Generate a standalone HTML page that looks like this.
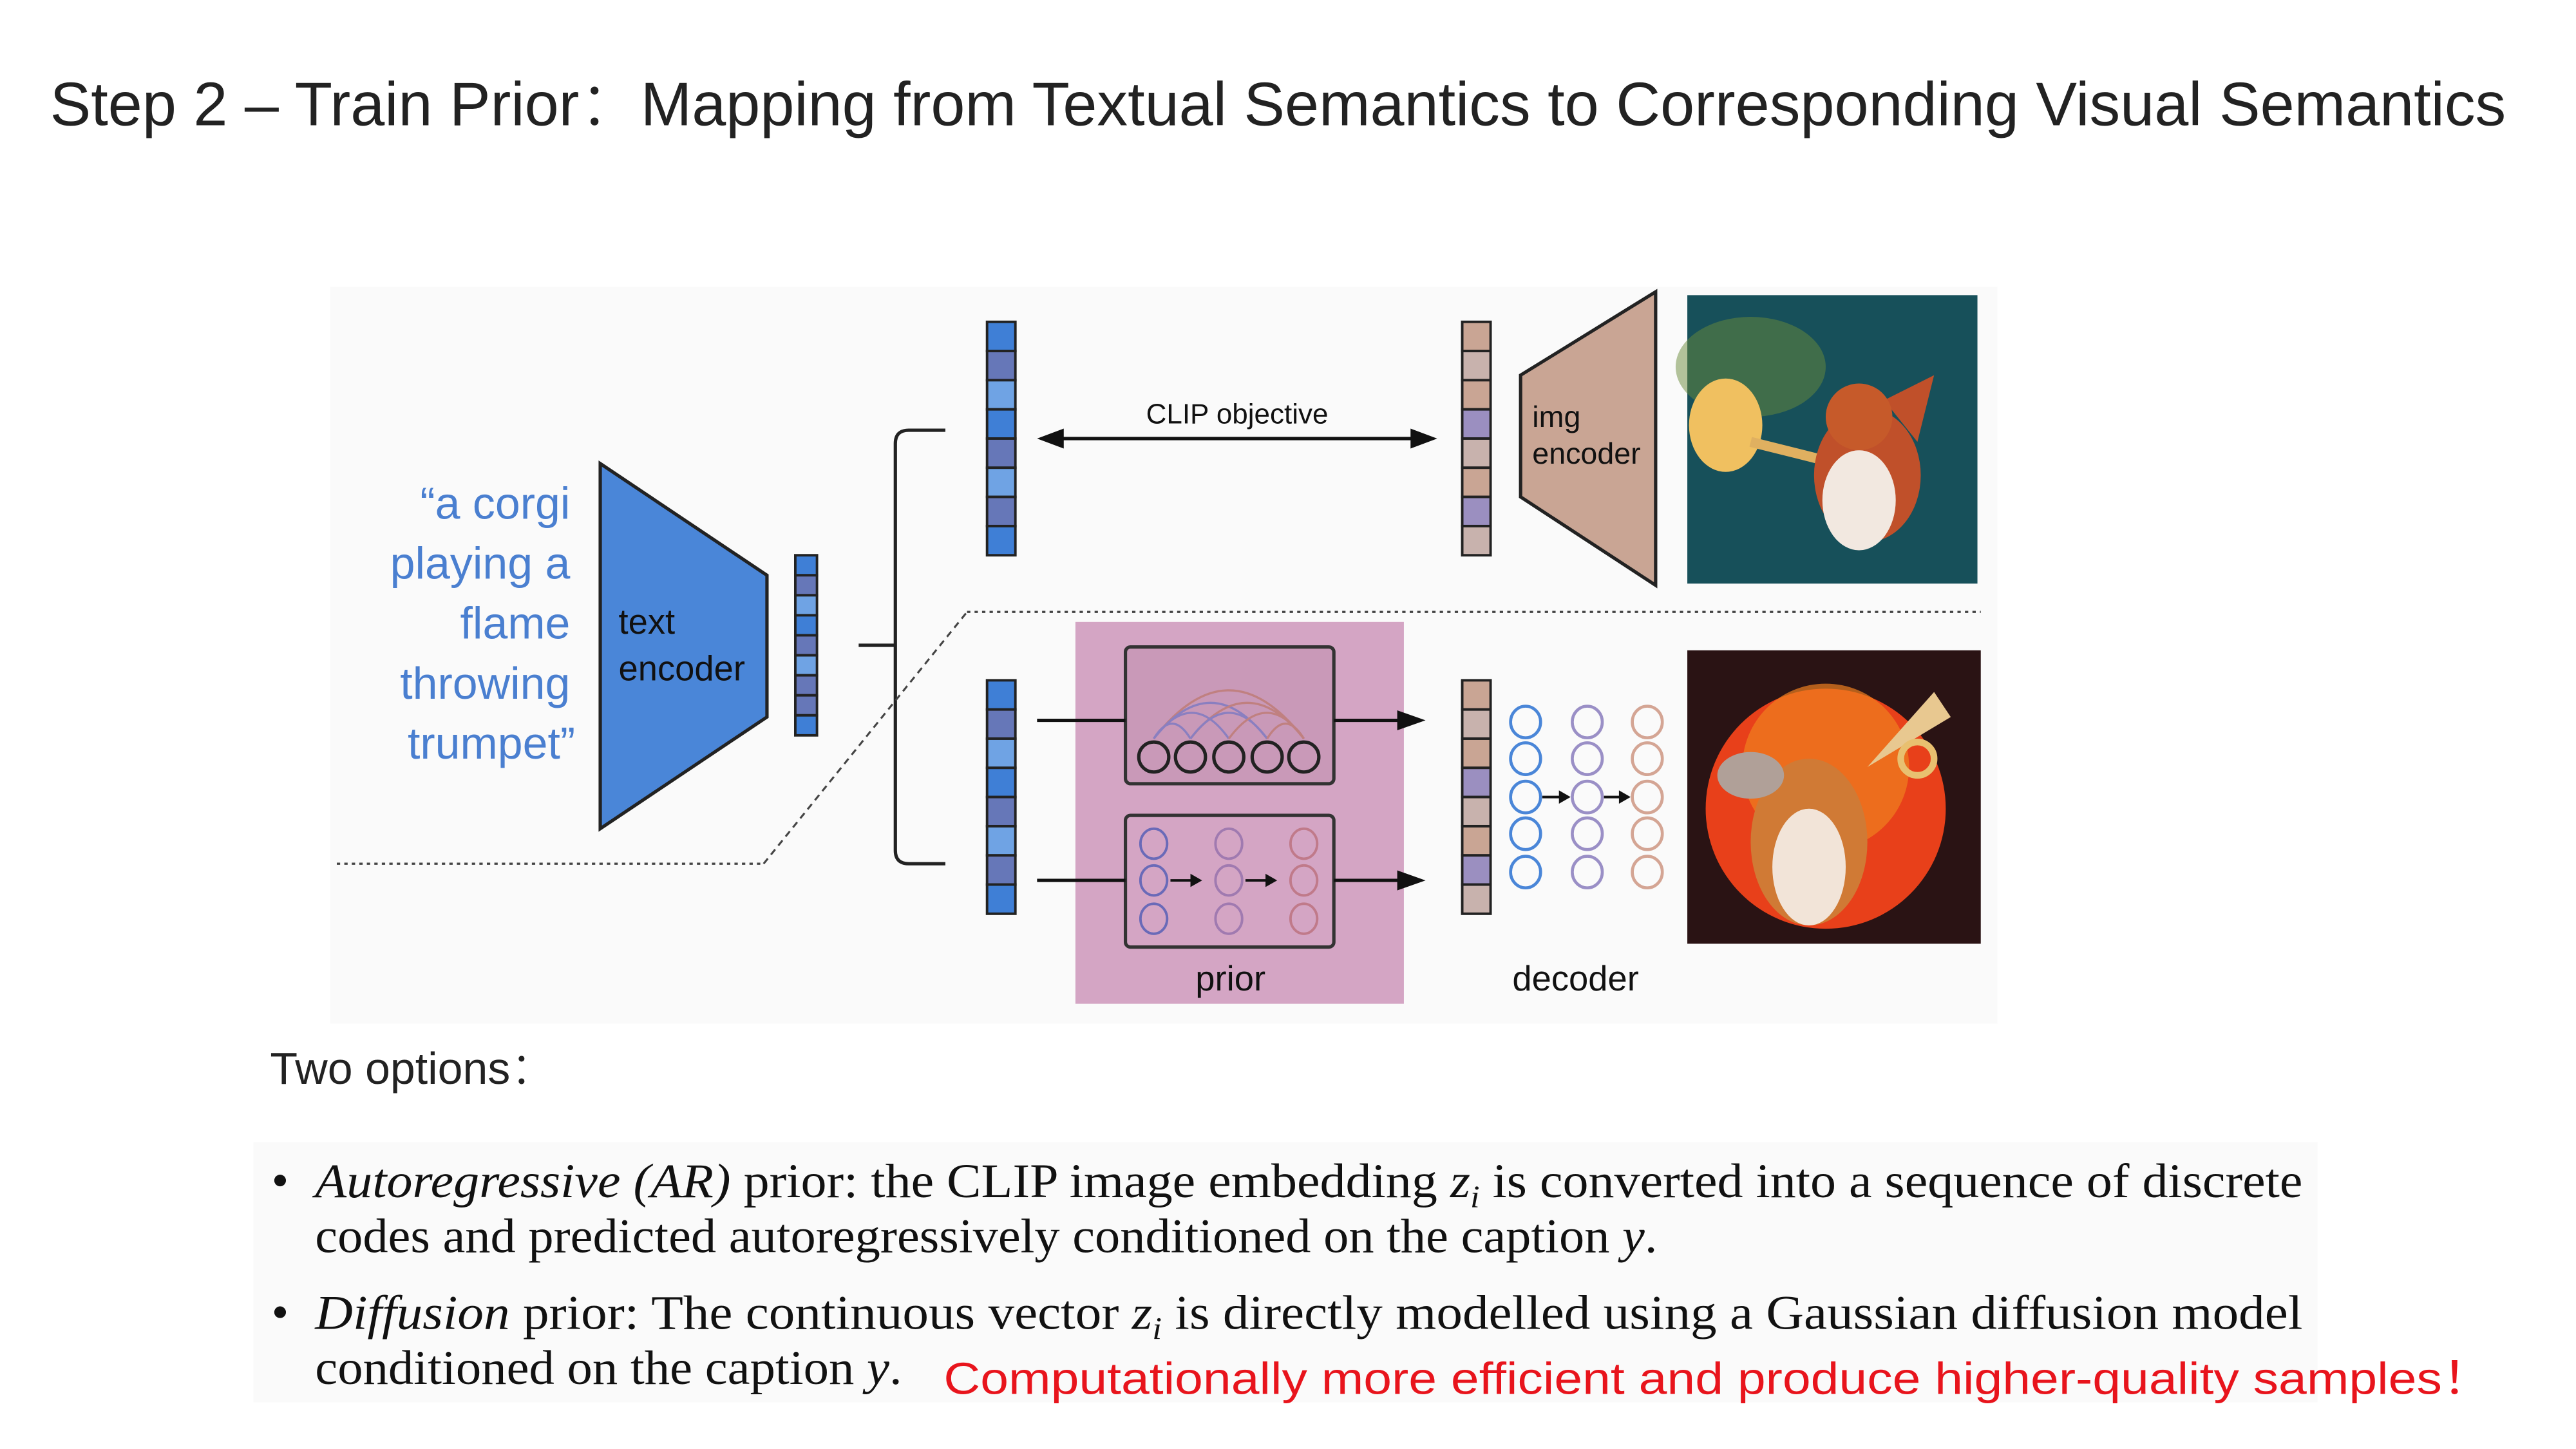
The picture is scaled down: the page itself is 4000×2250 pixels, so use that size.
<!DOCTYPE html>
<html><head><meta charset="utf-8"><style>
html,body{margin:0;padding:0;background:#fff;}
svg{display:block;}
.s{font-family:"Liberation Sans","Noto Sans CJK SC",sans-serif;}
.r{font-family:"Liberation Serif",serif;}
</style></head><body>
<svg width="4000" height="2250" viewBox="0 0 1545 869" xmlns="http://www.w3.org/2000/svg">
<rect width="1545" height="869" fill="#fff"/>
<text class="s" x="30" y="75" font-size="37" fill="#222" font-weight="300" textLength="1473" lengthAdjust="spacingAndGlyphs">Step 2 – Train Prior：Mapping from Textual Semantics to Corresponding Visual Semantics</text>
<rect x="198" y="172" width="1000" height="442" fill="#fafafa"/>
<g class="s" font-size="27" fill="#4a7fd0" text-anchor="end">
<text x="342" y="311">“a corgi</text><text x="342" y="347">playing a</text><text x="342" y="383">flame</text><text x="342" y="419">throwing</text><text x="345" y="455">trumpet”</text></g>
<polygon points="360,278 460,345 460,430 360,497" fill="#4a86d8" stroke="#222" stroke-width="2"/>
<text class="s" x="371" y="380" font-size="21" fill="#111">text</text>
<text class="s" x="371" y="408" font-size="21" fill="#111">encoder</text>
<g stroke="#222" stroke-width="1.5">
<rect x="477" y="333" width="13" height="12" fill="#3f7fd6"/><rect x="477" y="345" width="13" height="12" fill="#6677b8"/><rect x="477" y="357" width="13" height="12" fill="#6fa3e4"/><rect x="477" y="369" width="13" height="12" fill="#3f7fd6"/><rect x="477" y="381" width="13" height="12" fill="#6677b8"/><rect x="477" y="393" width="13" height="12" fill="#6fa3e4"/><rect x="477" y="405" width="13" height="12" fill="#6677b8"/><rect x="477" y="417" width="13" height="12" fill="#6677b8"/><rect x="477" y="429" width="13" height="12" fill="#3f7fd6"/>
</g>
<path d="M515,387H537M567,258H545Q537,258 537,266V510Q537,518 545,518H567" fill="none" stroke="#222" stroke-width="2"/>
<g stroke="#222" stroke-width="1.5">
<rect x="592" y="193" width="17" height="17.5" fill="#3f7fd6"/><rect x="592" y="210.5" width="17" height="17.5" fill="#6677b8"/><rect x="592" y="228" width="17" height="17.5" fill="#6fa3e4"/><rect x="592" y="245.5" width="17" height="17.5" fill="#3f7fd6"/><rect x="592" y="263" width="17" height="17.5" fill="#6677b8"/><rect x="592" y="280.5" width="17" height="17.5" fill="#6fa3e4"/><rect x="592" y="298" width="17" height="17.5" fill="#6677b8"/><rect x="592" y="315.5" width="17" height="17.5" fill="#3f7fd6"/>
<rect x="592" y="408" width="17" height="17.5" fill="#3f7fd6"/><rect x="592" y="425.5" width="17" height="17.5" fill="#6677b8"/><rect x="592" y="443" width="17" height="17.5" fill="#6fa3e4"/><rect x="592" y="460.5" width="17" height="17.5" fill="#3f7fd6"/><rect x="592" y="478" width="17" height="17.5" fill="#6677b8"/><rect x="592" y="495.5" width="17" height="17.5" fill="#6fa3e4"/><rect x="592" y="513" width="17" height="17.5" fill="#6677b8"/><rect x="592" y="530.5" width="17" height="17.5" fill="#3f7fd6"/>
<rect x="877" y="193" width="17" height="17.5" fill="#c9a594"/><rect x="877" y="210.5" width="17" height="17.5" fill="#c8b2ad"/><rect x="877" y="228" width="17" height="17.5" fill="#c9a594"/><rect x="877" y="245.5" width="17" height="17.5" fill="#9b8fc0"/><rect x="877" y="263" width="17" height="17.5" fill="#c8b2ad"/><rect x="877" y="280.5" width="17" height="17.5" fill="#c9a594"/><rect x="877" y="298" width="17" height="17.5" fill="#9b8fc0"/><rect x="877" y="315.5" width="17" height="17.5" fill="#c8b2ad"/>
<rect x="877" y="408" width="17" height="17.5" fill="#c9a594"/><rect x="877" y="425.5" width="17" height="17.5" fill="#c8b2ad"/><rect x="877" y="443" width="17" height="17.5" fill="#c9a594"/><rect x="877" y="460.5" width="17" height="17.5" fill="#9b8fc0"/><rect x="877" y="478" width="17" height="17.5" fill="#c8b2ad"/><rect x="877" y="495.5" width="17" height="17.5" fill="#c9a594"/><rect x="877" y="513" width="17" height="17.5" fill="#9b8fc0"/><rect x="877" y="530.5" width="17" height="17.5" fill="#c8b2ad"/>
</g>
<line x1="632" y1="263" x2="852" y2="263" stroke="#111" stroke-width="2"/>
<polygon points="622,263 638,257 638,269" fill="#111"/><polygon points="862,263 846,257 846,269" fill="#111"/>
<text class="s" x="742" y="254" font-size="17" fill="#111" text-anchor="middle">CLIP objective</text>
<polygon points="912,225 993,175 993,351 912,298" fill="#c9a594" stroke="#222" stroke-width="2"/>
<text class="s" x="919" y="256" font-size="18" fill="#111">img</text>
<text class="s" x="919" y="278" font-size="18" fill="#111">encoder</text>
<!-- image 1 -->
<rect x="1012" y="177" width="174" height="173" fill="#17505a"/>
<ellipse cx="1050" cy="220" rx="45" ry="30" fill="#6a8a3a" opacity="0.5"/>
<ellipse cx="1035" cy="255" rx="22" ry="28" fill="#f0c060"/>
<path d="M1050,265 L1090,275" stroke="#e0b060" stroke-width="6"/>
<ellipse cx="1120" cy="285" rx="32" ry="40" fill="#c0502a"/>
<ellipse cx="1115" cy="300" rx="22" ry="30" fill="#f2e8e0"/>
<path d="M1130,240 L1160,225 L1150,265 Z" fill="#c0502a"/>
<circle cx="1115" cy="250" r="20" fill="#c65a2a"/>
<!-- image 2 -->
<rect x="1012" y="390" width="176" height="176" fill="#2a1314"/>
<circle cx="1095" cy="485" r="72" fill="#e8401a"/>
<circle cx="1095" cy="460" r="50" fill="#f08020" opacity="0.7"/>
<ellipse cx="1085" cy="505" rx="35" ry="50" fill="#d07a35"/>
<ellipse cx="1085" cy="520" rx="22" ry="35" fill="#f2e4d8"/>
<ellipse cx="1050" cy="465" rx="20" ry="14" fill="#b0a098"/>
<path d="M1120,460 L1160,415 L1170,430 Z" fill="#e8c890"/>
<circle cx="1150" cy="455" r="10" fill="none" stroke="#e8c070" stroke-width="4"/>
<!-- dotted paths -->
<path d="M202,518H458" stroke="#444" stroke-width="1.3" stroke-dasharray="2,2.5" fill="none"/>
<path d="M458,518L580,367" stroke="#444" stroke-width="1.2" stroke-dasharray="4,3" fill="none"/>
<path d="M580,367H1188" stroke="#444" stroke-width="1.3" stroke-dasharray="2,2.5" fill="none"/>
<!-- prior -->
<rect x="645" y="373" width="197" height="229" fill="#d4a5c4"/>
<rect x="675" y="388" width="125" height="82" rx="3" fill="#c999b8" stroke="#333" stroke-width="2"/>
<rect x="675" y="489" width="125" height="79" rx="3" fill="#d4a5c4" stroke="#333" stroke-width="2"/>
<g fill="none" stroke-width="1.3">
<path d="M692,443 Q737,385 782,443" stroke="#c08080"/>
<path d="M692,443 Q726,400 760,443" stroke="#8a7fc0"/>
<path d="M714,443 Q748,400 782,443" stroke="#c08080"/>
<path d="M692,443 Q715,412 737,443" stroke="#8a7fc0"/>
<path d="M714,443 Q737,412 760,443" stroke="#8a7fc0"/>
<path d="M737,443 Q760,412 782,443" stroke="#c08080"/>
<path d="M692,443 Q703,425 714,443" stroke="#8a7fc0"/>
<path d="M760,443 Q771,425 782,443" stroke="#c08080"/>
</g>
<g fill="none" stroke="#222" stroke-width="2">
<circle cx="692" cy="454" r="9"/><circle cx="714" cy="454" r="9"/><circle cx="737" cy="454" r="9"/><circle cx="760" cy="454" r="9"/><circle cx="782" cy="454" r="9"/></g>
<g fill="none" stroke-width="1.5">
<g stroke="#6a6ab8"><ellipse cx="692" cy="506" rx="8" ry="9"/><ellipse cx="692" cy="528" rx="8" ry="9"/><ellipse cx="692" cy="551" rx="8" ry="9"/></g>
<g stroke="#a07ab0"><ellipse cx="737" cy="506" rx="8" ry="9"/><ellipse cx="737" cy="528" rx="8" ry="9"/><ellipse cx="737" cy="551" rx="8" ry="9"/></g>
<g stroke="#c07a8a"><ellipse cx="782" cy="506" rx="8" ry="9"/><ellipse cx="782" cy="528" rx="8" ry="9"/><ellipse cx="782" cy="551" rx="8" ry="9"/></g></g>
<g stroke="#111" stroke-width="1.5"><line x1="702" y1="528" x2="716" y2="528"/><line x1="747" y1="528" x2="761" y2="528"/></g>
<polygon points="721,528 714,524 714,532" fill="#111"/><polygon points="766,528 759,524 759,532" fill="#111"/>
<text class="s" x="738" y="594" font-size="21" fill="#111" text-anchor="middle">prior</text>
<g stroke="#111" stroke-width="2"><line x1="622" y1="432" x2="675" y2="432"/><line x1="800" y1="432" x2="840" y2="432"/><line x1="622" y1="528" x2="675" y2="528"/><line x1="800" y1="528" x2="840" y2="528"/></g>
<polygon points="855,432 838,426 838,438" fill="#111"/><polygon points="855,528 838,522 838,534" fill="#111"/>
<!-- decoder circles -->
<g fill="none" stroke-width="1.8">
<g stroke="#4a86d8"><ellipse cx="915" cy="433" rx="9" ry="9.5"/><ellipse cx="915" cy="455" rx="9" ry="9.5"/><ellipse cx="915" cy="478" rx="9" ry="9.5"/><ellipse cx="915" cy="500" rx="9" ry="9.5"/><ellipse cx="915" cy="523" rx="9" ry="9.5"/></g>
<g stroke="#9a8fc6"><ellipse cx="952" cy="433" rx="9" ry="9.5"/><ellipse cx="952" cy="455" rx="9" ry="9.5"/><ellipse cx="952" cy="478" rx="9" ry="9.5"/><ellipse cx="952" cy="500" rx="9" ry="9.5"/><ellipse cx="952" cy="523" rx="9" ry="9.5"/></g>
<g stroke="#d4a594"><ellipse cx="988" cy="433" rx="9" ry="9.5"/><ellipse cx="988" cy="455" rx="9" ry="9.5"/><ellipse cx="988" cy="478" rx="9" ry="9.5"/><ellipse cx="988" cy="500" rx="9" ry="9.5"/><ellipse cx="988" cy="523" rx="9" ry="9.5"/></g></g>
<g stroke="#111" stroke-width="1.5"><line x1="925" y1="478" x2="937" y2="478"/><line x1="962" y1="478" x2="973" y2="478"/></g>
<polygon points="942,478 935,474 935,482" fill="#111"/><polygon points="978,478 971,474 971,482" fill="#111"/>
<text class="s" x="945" y="594" font-size="21" fill="#111" text-anchor="middle">decoder</text>
<!-- lower text -->
<text class="s" x="162" y="650" font-size="27" fill="#222" font-weight="300">Two options：</text>
<rect x="152" y="685" width="1238" height="156" fill="#fafafa"/>
<g class="r" font-size="29" fill="#111">
<circle cx="168" cy="708" r="3.5"/><circle cx="168" cy="787" r="3.5"/>
<text x="189" y="718" textLength="1192" lengthAdjust="spacingAndGlyphs"><tspan font-style="italic">Autoregressive (AR)</tspan> prior: the CLIP image embedding <tspan font-style="italic">z<tspan font-size="19" dy="6">i</tspan></tspan><tspan dy="-6"> is converted into a sequence of discrete</tspan></text>
<text x="189" y="751" textLength="805" lengthAdjust="spacingAndGlyphs">codes and predicted autoregressively conditioned on the caption <tspan font-style="italic">y</tspan>.</text>
<text x="189" y="797" textLength="1192" lengthAdjust="spacingAndGlyphs"><tspan font-style="italic">Diffusion</tspan> prior: The continuous vector <tspan font-style="italic">z<tspan font-size="19" dy="6">i</tspan></tspan><tspan dy="-6"> is directly modelled using a Gaussian diffusion model</tspan></text>
<text x="189" y="830" textLength="352" lengthAdjust="spacingAndGlyphs">conditioned on the caption <tspan font-style="italic">y</tspan>.</text>
</g>
<text class="s" x="566" y="836" font-size="27" fill="#e8141c" textLength="929" lengthAdjust="spacingAndGlyphs">Computationally more efficient and produce higher-quality samples！</text>
</svg>
</body></html>
